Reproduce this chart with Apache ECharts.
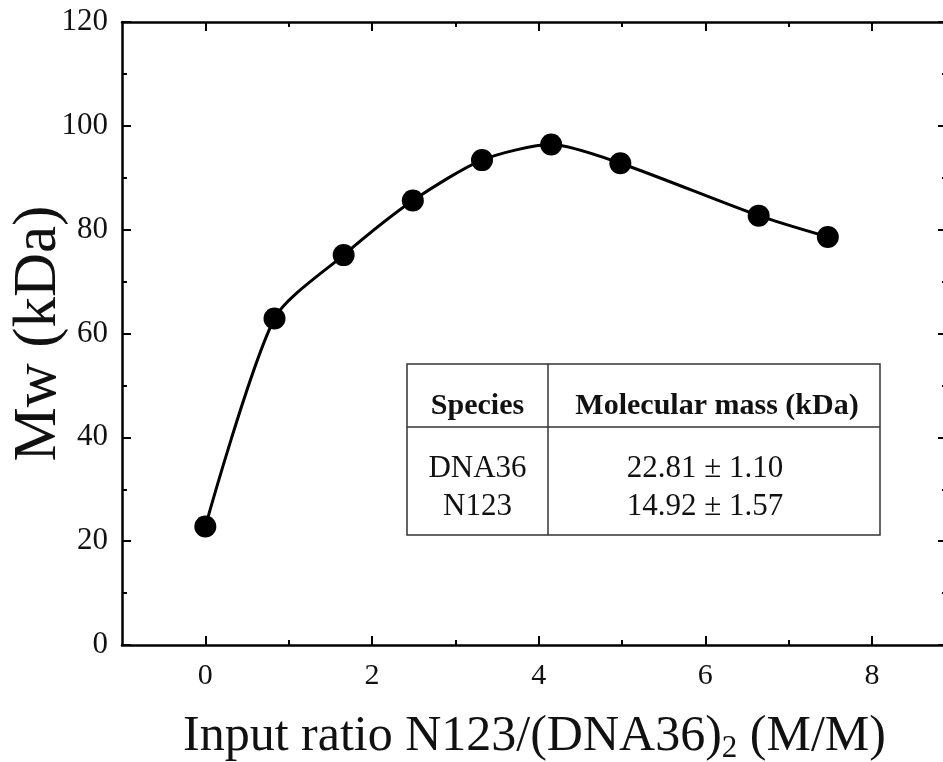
<!DOCTYPE html>
<html>
<head>
<meta charset="utf-8">
<script src="https://cdn.jsdelivr.net/npm/echarts@6/dist/echarts.min.js"></script>
<style>
html,body{margin:0;padding:0;background:#fff;}
#c{width:943px;height:762px;}
</style>
</head>
<body>
<div id="c"></div>
<script>
// ---- data ----
const ratios = [0, 0.83, 1.66, 2.49, 3.32, 4.15, 4.98, 6.64, 7.47];
const mw = [22.81, 62.9, 75.1, 85.6, 93.4, 96.4, 92.8, 82.7, 78.6];
const xMajorTicks = [0, 2, 4, 6, 8];
const xMinorTicks = [1, 3, 5, 7];
const tableHeaders = ['Species', 'Molecular mass (kDa)'];
const speciesNames = ['DNA36', 'N123'];
const massValues = ['22.81 ± 1.10', '14.92 ± 1.57'];

const FONT = '"Liberation Serif", "Times New Roman", serif';
const chart = echarts.init(document.getElementById('c'), null, {renderer: 'canvas'});

const xMin = -1, xMax = 8.9;
const baseX = {
  type: 'value', min: xMin, max: xMax, gridIndex: 0,
  splitLine: {show: false}
};
const option = {
  animation: false,
  backgroundColor: '#fff',
  grid: {left: 122, top: 22, width: 825, height: 623, containLabel: false, outerBoundsMode: 'none'},
  xAxis: [
    Object.assign({}, baseX, {
      position: 'bottom',
      axisLine: {show: true, onZero: false, lineStyle: {color: '#000', width: 2.5}},
      axisTick: {show: true, inside: true, length: 9, customValues: xMajorTicks, lineStyle: {color: '#000', width: 2}},
      axisLabel: {show: true, customValues: xMajorTicks, margin: 16, fontFamily: FONT, fontSize: 30, color: '#111'},
      name: '{a|Input ratio N123/(DNA36)}{s|2}{a| (M/M)}',
      nameLocation: 'middle', nameGap: 64,
      nameTextStyle: {
        rich: {
          a: {fontFamily: FONT, fontSize: 50, color: '#111'},
          s: {fontFamily: FONT, fontSize: 31, color: '#111', padding: [24, 0, 0, 0]}
        }
      }
    }),
    Object.assign({}, baseX, {
      position: 'bottom',
      axisLine: {show: false, onZero: false},
      axisTick: {show: true, inside: true, length: 5, customValues: xMinorTicks, lineStyle: {color: '#000', width: 2}},
      axisLabel: {show: false}
    }),
    Object.assign({}, baseX, {
      position: 'top',
      axisLine: {show: true, onZero: false, lineStyle: {color: '#000', width: 2.5}},
      axisTick: {show: true, inside: true, length: 9, customValues: xMajorTicks, lineStyle: {color: '#000', width: 2}},
      axisLabel: {show: false}
    }),
    Object.assign({}, baseX, {
      position: 'top',
      axisLine: {show: false, onZero: false},
      axisTick: {show: true, inside: true, length: 5, customValues: xMinorTicks, lineStyle: {color: '#000', width: 2}},
      axisLabel: {show: false}
    })
  ],
  yAxis: [
    {
      type: 'value', min: 0, max: 120, interval: 20, position: 'left',
      splitLine: {show: false},
      axisLine: {show: true, onZero: false, lineStyle: {color: '#000', width: 2.5}},
      axisTick: {show: true, inside: true, length: 9, lineStyle: {color: '#000', width: 2}},
      minorTick: {show: true, splitNumber: 2, length: 5, lineStyle: {color: '#000', width: 2}},
      axisLabel: {show: true, margin: 14, fontFamily: FONT, fontSize: 31, color: '#111'},
      name: 'Mw (kDa)', nameLocation: 'middle', nameGap: 53, nameRotate: 90,
      nameMoveOverlap: false,
      nameTextStyle: {fontFamily: FONT, fontSize: 61, color: '#111'}
    },
    {
      type: 'value', min: 0, max: 120, interval: 20, position: 'right',
      splitLine: {show: false},
      axisLine: {show: true, onZero: false, lineStyle: {color: '#000', width: 2.5}},
      axisTick: {show: true, inside: true, length: 9, lineStyle: {color: '#000', width: 2}},
      minorTick: {show: true, splitNumber: 2, length: 5, lineStyle: {color: '#000', width: 2}},
      axisLabel: {show: false}
    }
  ],
  series: [{
    type: 'line',
    xAxisIndex: 0, yAxisIndex: 0,
    data: ratios.map((x, i) => [x, mw[i]]),
    smooth: 0.25,
    symbol: 'circle', symbolSize: 22,
    lineStyle: {color: '#000', width: 3},
    itemStyle: {color: '#000'},
    z: 5
  }]
};
chart.setOption(option);

// ---- inset table ----
const tL = 407, tT = 364, tR = 880, tB = 535, colX = 548, rowY = 427;
const tblStroke = {stroke: '#333', lineWidth: 1.5};
const g = [
  {type: 'rect', shape: {x: tL, y: tT, width: tR - tL, height: tB - tT}, style: Object.assign({fill: '#fff'}, tblStroke), z: 10},
  {type: 'line', shape: {x1: colX, y1: tT, x2: colX, y2: tB}, style: tblStroke, z: 11},
  {type: 'line', shape: {x1: tL, y1: rowY, x2: tR, y2: rowY}, style: tblStroke, z: 11},
  {type: 'text', x: (tL + colX) / 2, y: 406, z: 12, style: {text: tableHeaders[0], font: 'bold 30px ' + FONT, fill: '#111', align: 'center', verticalAlign: 'middle'}},
  {type: 'text', x: (colX + tR) / 2 + 3, y: 406, z: 12, style: {text: tableHeaders[1], font: 'bold 30px ' + FONT, fill: '#111', align: 'center', verticalAlign: 'middle'}},
  {type: 'text', x: (tL + colX) / 2, y: 488, z: 12, style: {text: speciesNames.join('\n'), font: '31px ' + FONT, lineHeight: 38, fill: '#111', align: 'center', verticalAlign: 'middle'}},
  {type: 'text', x: 705, y: 488, z: 12, style: {text: massValues.join('\n'), font: '31px ' + FONT, lineHeight: 38, fill: '#111', align: 'center', verticalAlign: 'middle'}}
];
chart.setOption({graphic: g});
</script>
</body>
</html>
